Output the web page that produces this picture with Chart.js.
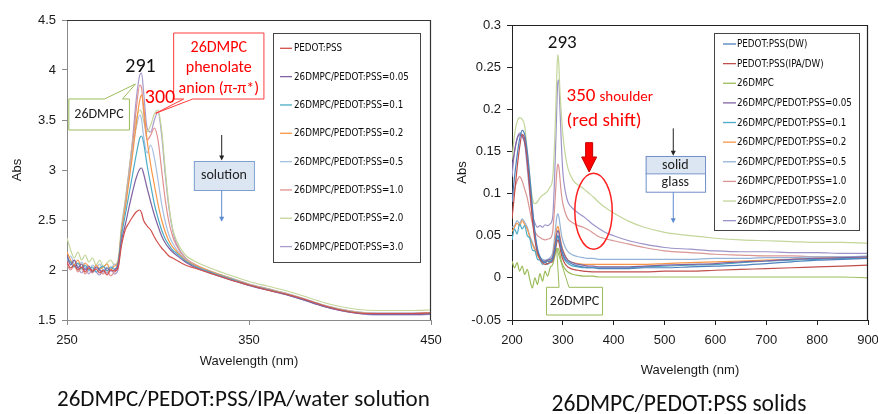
<!DOCTYPE html>
<html><head><meta charset="utf-8">
<script src="https://cdn.jsdelivr.net/npm/chart.js@4.4.1/dist/chart.umd.min.js"></script>
<style>
html,body{margin:0;padding:0;background:#fff;width:878px;height:414px;overflow:hidden;position:relative;}
#c1{position:absolute;left:0;top:0;width:460px;height:414px;}
#c2{position:absolute;left:440px;top:0;width:438px;height:414px;}
.cap{position:absolute;white-space:nowrap;color:#111;font-family:Carlito,'Open Sans',sans-serif;line-height:1;}
</style></head><body>
<canvas id="c1" width="460" height="414"></canvas>
<canvas id="c2" width="438" height="414"></canvas>
<div class="cap" id="cap1">26DMPC/PEDOT:PSS/IPA/water solution</div>
<div class="cap" id="cap2">26DMPC/PEDOT:PSS solids</div>
<script>
// ---------------- DATA: left panel (solution) ----------------
const leftWavelengths = [250,252,254,256,258,260,262,264,266,268,270,272,274,276,278,280,282,284,286,288,290,291,292,294,296,298,300,302,304,306,308,310,315,320,330,340,350,360,370,380,390,400,410,420,430,440,450];
const leftLabels = ['PEDOT:PSS','26DMPC/PEDOT:PSS=0.05','26DMPC/PEDOT:PSS=0.1','26DMPC/PEDOT:PSS=0.2','26DMPC/PEDOT:PSS=0.5','26DMPC/PEDOT:PSS=1.0','26DMPC/PEDOT:PSS=2.0','26DMPC/PEDOT:PSS=3.0'];
const leftPedot = [2.08,2.02,2.05,2.00,2.03,1.98,2.02,1.99,2.01,1.97,2.00,1.95,2.00,1.99,2.02,2.25,2.40,2.47,2.53,2.58,2.60,2.57,2.50,2.44,2.40,2.33,2.27,2.22,2.18,2.14,2.12,2.10,2.05,2.02,1.96,1.90,1.85,1.80,1.76,1.71,1.65,1.60,1.57,1.565,1.565,1.565,1.57];
const left005 = [2.15,2.05,2.10,2.02,2.06,2.00,2.04,1.98,2.03,2.00,1.98,2.02,1.99,2.00,2.05,2.30,2.45,2.62,2.78,2.92,3.01,3.02,2.97,2.82,2.68,2.55,2.44,2.34,2.27,2.22,2.18,2.15,2.08,2.03,1.96,1.90,1.845,1.80,1.755,1.70,1.64,1.595,1.565,1.555,1.555,1.555,1.56];
const left01 = [2.12,2.08,2.03,2.07,2.01,2.05,2.00,2.03,1.98,2.02,2.04,1.99,2.03,2.01,2.06,2.35,2.55,2.75,2.95,3.15,3.32,3.34,3.28,3.05,2.85,2.66,2.52,2.40,2.31,2.25,2.20,2.17,2.09,2.04,1.97,1.91,1.85,1.805,1.76,1.705,1.645,1.60,1.57,1.56,1.56,1.56,1.565];
const left02 = [2.18,2.10,2.05,2.10,2.02,2.07,2.03,1.99,2.05,2.01,2.03,2.06,2.00,2.04,2.07,2.40,2.62,2.88,3.15,3.45,3.70,3.75,3.65,3.30,3.05,2.85,2.66,2.50,2.38,2.29,2.23,2.19,2.10,2.05,1.98,1.915,1.855,1.81,1.765,1.71,1.65,1.605,1.575,1.565,1.565,1.565,1.57];
const left05 = [2.10,2.14,2.06,2.02,2.08,2.03,1.99,2.05,2.02,2.06,2.00,2.03,2.01,2.06,2.04,2.42,2.65,2.92,3.20,3.42,3.55,3.50,3.35,3.17,3.25,3.12,2.90,2.66,2.48,2.35,2.27,2.21,2.11,2.05,1.98,1.92,1.86,1.815,1.77,1.715,1.655,1.61,1.58,1.57,1.57,1.57,1.575];
const left10 = [2.05,2.00,2.04,1.98,2.02,1.96,2.00,1.97,2.03,1.99,1.96,2.00,1.94,1.98,2.03,2.40,2.66,2.95,3.25,3.60,3.85,3.82,3.60,3.30,3.35,3.42,3.30,3.00,2.70,2.48,2.34,2.25,2.12,2.06,1.98,1.92,1.86,1.815,1.77,1.715,1.655,1.61,1.58,1.57,1.57,1.57,1.575];
const left20 = [2.32,2.20,2.12,2.18,2.10,2.15,2.08,2.12,2.05,2.10,2.03,2.07,2.10,2.05,2.10,2.45,2.70,2.98,3.28,3.50,3.60,3.58,3.50,3.38,3.45,3.56,3.60,3.40,3.00,2.65,2.42,2.30,2.15,2.09,2.01,1.945,1.885,1.84,1.795,1.74,1.68,1.635,1.605,1.595,1.595,1.595,1.60];
const left30 = [2.12,2.06,2.10,2.03,1.97,2.02,1.96,2.01,1.98,1.95,2.00,1.97,2.02,1.96,2.00,2.40,2.68,2.98,3.30,3.70,3.95,3.97,3.80,3.42,3.38,3.50,3.58,3.35,2.95,2.62,2.40,2.27,2.12,2.05,1.97,1.91,1.845,1.80,1.755,1.70,1.64,1.595,1.565,1.55,1.55,1.55,1.555];
const leftSeries = [leftPedot,left005,left01,left02,left05,left10,left20,left30];
const leftColors = ['#D0504D','#8064A2','#4BACC6','#F79646','#A5BFE0','#E0908E','#C3D69B','#A99BCB'];
const leftXTicks = [250, 450, 100];      // min, max, step
const leftYTicks = [1.5, 4.5, 0.5];

// ---------------- DATA: right panel (solids) ----------------
const rightWavelengths = [200,205,210,215,220,225,230,235,240,245,250,255,260,265,270,275,280,285,288,290,292,294,297,300,305,310,320,330,340,350,360,370,380,400,430,460,500,550,600,650,700,750,800,850,900];
const rightLabels = ['PEDOT:PSS(DW)','PEDOT:PSS(IPA/DW)','26DMPC','26DMPC/PEDOT:PSS=0.05','26DMPC/PEDOT:PSS=0.1','26DMPC/PEDOT:PSS=0.2','26DMPC/PEDOT:PSS=0.5','26DMPC/PEDOT:PSS=1.0','26DMPC/PEDOT:PSS=2.0','26DMPC/PEDOT:PSS=3.0'];
const rightDW = [0.09,0.12,0.145,0.165,0.175,0.17,0.15,0.12,0.085,0.055,0.035,0.025,0.02,0.018,0.02,0.019,0.022,0.035,0.047,0.05,0.048,0.042,0.034,0.028,0.022,0.019,0.016,0.014,0.013,0.012,0.012,0.011,0.011,0.011,0.011,0.012,0.012,0.013,0.014,0.015,0.017,0.019,0.021,0.022,0.023];
const rightIPA = [0.07,0.10,0.13,0.155,0.17,0.165,0.14,0.105,0.07,0.045,0.03,0.022,0.018,0.016,0.017,0.018,0.02,0.032,0.042,0.045,0.043,0.037,0.028,0.022,0.016,0.013,0.01,0.009,0.008,0.0075,0.007,0.007,0.007,0.007,0.007,0.007,0.008,0.008,0.009,0.01,0.011,0.012,0.013,0.014,0.015];
const rightDMPC = [0.02,0.012,0.018,0.008,0.014,0.004,0.01,-0.002,-0.012,0.0,-0.008,0.005,-0.004,0.008,0.002,0.012,0.016,0.028,0.034,0.035,0.033,0.028,0.02,0.015,0.01,0.007,0.004,0.003,0.002,0.002,0.002,0.001,0.001,0.001,0.001,0.001,0.001,0.001,0.001,0.001,0.001,0.001,0.001,0.001,0.0];
const right005 = [0.13,0.15,0.165,0.17,0.168,0.16,0.14,0.11,0.08,0.05,0.032,0.024,0.02,0.02,0.021,0.022,0.025,0.04,0.052,0.056,0.054,0.047,0.038,0.032,0.025,0.021,0.018,0.016,0.015,0.014,0.014,0.013,0.013,0.013,0.013,0.014,0.015,0.016,0.017,0.019,0.02,0.022,0.023,0.024,0.025];
const right01 = [0.045,0.058,0.052,0.064,0.058,0.062,0.05,0.047,0.033,0.032,0.022,0.021,0.016,0.019,0.016,0.02,0.022,0.036,0.046,0.048,0.046,0.04,0.032,0.026,0.02,0.017,0.014,0.013,0.012,0.012,0.012,0.012,0.012,0.012,0.012,0.013,0.014,0.015,0.016,0.018,0.02,0.021,0.022,0.023,0.023];
const right02 = [0.055,0.06,0.065,0.062,0.068,0.063,0.058,0.048,0.04,0.033,0.027,0.022,0.02,0.019,0.02,0.021,0.025,0.045,0.058,0.061,0.058,0.05,0.04,0.033,0.026,0.021,0.018,0.017,0.016,0.016,0.016,0.016,0.016,0.016,0.016,0.016,0.017,0.018,0.019,0.02,0.021,0.022,0.023,0.024,0.024];
const right05 = [0.06,0.062,0.068,0.065,0.07,0.066,0.06,0.05,0.042,0.035,0.03,0.025,0.022,0.021,0.022,0.024,0.03,0.055,0.072,0.076,0.073,0.065,0.052,0.044,0.036,0.031,0.027,0.025,0.024,0.023,0.023,0.022,0.022,0.022,0.022,0.022,0.022,0.022,0.023,0.023,0.024,0.024,0.025,0.025,0.026];
const right10 = [0.09,0.105,0.115,0.12,0.115,0.105,0.095,0.08,0.065,0.055,0.05,0.048,0.046,0.045,0.046,0.047,0.055,0.095,0.125,0.135,0.132,0.12,0.1,0.088,0.077,0.07,0.065,0.062,0.06,0.057,0.053,0.049,0.047,0.044,0.04,0.036,0.032,0.03,0.028,0.027,0.026,0.026,0.025,0.025,0.025];
const right20 = [0.14,0.17,0.185,0.19,0.188,0.18,0.15,0.12,0.095,0.088,0.09,0.095,0.098,0.1,0.103,0.108,0.118,0.18,0.24,0.265,0.255,0.225,0.195,0.17,0.145,0.13,0.116,0.11,0.106,0.101,0.096,0.09,0.085,0.077,0.067,0.06,0.054,0.05,0.047,0.045,0.044,0.043,0.042,0.042,0.041];
const right30 = [0.12,0.15,0.165,0.172,0.17,0.16,0.13,0.10,0.075,0.065,0.06,0.062,0.06,0.063,0.062,0.064,0.072,0.14,0.2,0.232,0.235,0.205,0.16,0.125,0.102,0.09,0.082,0.077,0.073,0.068,0.063,0.059,0.055,0.05,0.044,0.04,0.036,0.034,0.032,0.031,0.031,0.03,0.03,0.029,0.029];
const rightSeries = [rightDW,rightIPA,rightDMPC,right005,right01,right02,right05,right10,right20,right30];
const rightColors = ['#4F81BD','#C0504D','#9BBB59','#8064A2','#4BACC6','#F79646','#95B3D7','#D99694','#C3D69B','#9E93C9'];
const rightXTicks = [200, 900, 100];
const rightYTicks = [-0.05, 0.3, 0.05];

// ---------------- helpers ----------------
const TF = "'Liberation Sans', Arial, sans-serif";
const LF = "'Liberation Sans Narrow', 'DejaVu Sans Condensed', 'Liberation Sans', sans-serif";
const AF = "Carlito, 'Open Sans', sans-serif";
const mctx = document.createElement('canvas').getContext('2d');
function fitSize(text, family, target){ mctx.font = '100px ' + family; return 100*target/mctx.measureText(text).width; }
const legendSize = fitSize('26DMPC/PEDOT:PSS=0.05', LF, 115);

function pts(xs, ys){ return xs.map((x,i)=>({x:x, y:ys[i]})); }
function fmt(v){ return String(+Number(v).toFixed(2)); }

function makeDatasets(xs, series, labels, colors){
  return series.map((s,i)=>({label:labels[i], data:pts(xs,s), borderColor:colors[i], backgroundColor:colors[i],
    borderWidth:1.2, pointRadius:0, fill:false, cubicInterpolationMode:'monotone'}));
}

function makeOptions(xt, yt, axisColor, yWidth, xHeight, pad){
  return {
    responsive:false, animation:false,
    layout:{padding:pad},
    plugins:{legend:{display:false}, tooltip:{enabled:false}},
    scales:{
      x:{type:'linear', min:xt[0], max:xt[1],
        ticks:{stepSize:xt[2], font:{family:TF,size:13}, color:'#1a1a1a', padding:8, maxRotation:0, autoSkip:false},
        grid:{display:true, drawOnChartArea:false, drawTicks:true, tickLength:5, color:axisColor},
        border:{color:axisColor, width:1},
        title:{display:true, text:'Wavelength (nm)', font:{family:TF,size:13}, color:'#1a1a1a', padding:0},
        afterFit:s=>{ s.height = xHeight; s.paddingLeft = 0; s.paddingRight = 0; }
      },
      y:{type:'linear', min:yt[0], max:yt[1],
        ticks:{stepSize:yt[2], font:{family:TF,size:13}, color:'#1a1a1a', padding:6, callback:v=>fmt(v), autoSkip:false},
        grid:{display:true, drawOnChartArea:false, drawTicks:true, tickLength:5, color:axisColor},
        border:{color:axisColor, width:1},
        title:{display:true, text:'Abs', font:{family:TF,size:13}, color:'#1a1a1a', padding:0},
        afterFit:s=>{ s.width = yWidth; }
      }
    }
  };
}

function drawFrame(chart, color){
  const {ctx, chartArea:a} = chart;
  ctx.save(); ctx.strokeStyle = color; ctx.lineWidth = 1.2;
  ctx.beginPath(); ctx.moveTo(a.left, a.top+0.5); ctx.lineTo(a.right-0.5, a.top+0.5); ctx.lineTo(a.right-0.5, a.bottom); ctx.stroke();
  ctx.restore();
}
function drawLegend(chart, o){
  const ctx = chart.ctx;
  ctx.save();
  ctx.fillStyle = '#fff'; ctx.strokeStyle = '#444'; ctx.lineWidth = 1;
  ctx.fillRect(o.x0, o.y0, o.x1-o.x0, o.y1-o.y0);
  ctx.strokeRect(o.x0+0.5, o.y0+0.5, o.x1-o.x0, o.y1-o.y0);
  ctx.font = legendSize.toFixed(2) + 'px ' + LF;
  ctx.textBaseline = 'middle'; ctx.textAlign = 'left';
  chart.data.datasets.forEach((d,i)=>{
    const y = o.firstY + i*o.step;
    ctx.strokeStyle = d.borderColor; ctx.lineWidth = 1.3;
    ctx.beginPath(); ctx.moveTo(o.lx0, y); ctx.lineTo(o.lx1, y); ctx.stroke();
    ctx.fillStyle = '#0d0d0d'; ctx.fillText(d.label, o.tx, y+0.5);
  });
  ctx.restore();
}
function text(ctx, s, x, y, size, color, align){
  ctx.save(); ctx.font = size + 'px ' + AF; ctx.fillStyle = color; ctx.textAlign = align||'center'; ctx.textBaseline = 'middle';
  ctx.fillText(s, x, y); ctx.restore();
}
function vArrow(ctx, x, y0, y1, color){
  ctx.save(); ctx.strokeStyle = color; ctx.fillStyle = color; ctx.lineWidth = 1;
  ctx.beginPath(); ctx.moveTo(x, y0); ctx.lineTo(x, y1-4); ctx.stroke();
  ctx.beginPath(); ctx.moveTo(x-2.5, y1-5); ctx.lineTo(x+2.5, y1-5); ctx.lineTo(x, y1); ctx.closePath(); ctx.fill();
  ctx.restore();
}
function calloutTop(ctx, x0,y0,x1,y1,b1,b2,tx,ty,color){
  ctx.save(); ctx.beginPath(); ctx.moveTo(x0,y0); ctx.lineTo(b1,y0); ctx.lineTo(tx,ty); ctx.lineTo(b2,y0); ctx.lineTo(x1,y0);
  ctx.lineTo(x1,y1); ctx.lineTo(x0,y1); ctx.closePath(); ctx.fillStyle='#fff'; ctx.fill(); ctx.strokeStyle=color; ctx.lineWidth=1; ctx.stroke(); ctx.restore();
}
function calloutBottom(ctx, x0,y0,x1,y1,b1,b2,tx,ty,color){
  ctx.save(); ctx.beginPath(); ctx.moveTo(x0,y0); ctx.lineTo(x1,y0); ctx.lineTo(x1,y1); ctx.lineTo(b2,y1); ctx.lineTo(tx,ty);
  ctx.lineTo(b1,y1); ctx.lineTo(x0,y1); ctx.closePath(); ctx.fillStyle='#fff'; ctx.fill(); ctx.strokeStyle=color; ctx.lineWidth=1; ctx.stroke(); ctx.restore();
}

// ---------------- left chart ----------------
const leftPlugin = {id:'leftAnn', afterDraw(chart){
  const ctx = chart.ctx, X = v=>chart.scales.x.getPixelForValue(v), Y = v=>chart.scales.y.getPixelForValue(v);
  drawFrame(chart, '#333');
  drawLegend(chart, {x0:273, y0:33, x1:420, y1:262, firstY:48.3, step:28.33, lx0:280, lx1:292, tx:294});
  calloutTop(ctx, X(251), Y(3.71), X(284.3), Y(3.40), X(270.6), X(280.5), X(287.6), Y(3.86), '#9BBB59');
  text(ctx, '26DMPC', X(267.6), Y(3.555), 14, '#222');
  text(ctx, '291', X(290.4), Y(4.03), 20, '#111');
  calloutBottom(ctx, X(308.6), Y(4.37), X(358.2), Y(3.71), X(314.1), X(319.1), X(298.7), Y(3.567), '#FF3B3B');
  text(ctx, '26DMPC', X(333.4), Y(4.22), 16, '#FF0000');
  text(ctx, 'phenolate', X(333.4), Y(4.02), 16, '#FF0000');
  text(ctx, 'anion (π-π*)', X(333.4), Y(3.81), 16, '#FF0000');
  text(ctx, '300', X(301.1), Y(3.725), 20, '#FF0000');
  vArrow(ctx, X(335), Y(3.35), Y(3.095), '#222');
  ctx.save(); ctx.fillStyle = '#DCE6F2'; ctx.strokeStyle = '#7F9FCF'; ctx.lineWidth = 1;
  const bx0 = X(319.7), by0 = Y(3.09), bx1 = X(352.7), by1 = Y(2.80);
  ctx.fillRect(bx0, by0, bx1-bx0, by1-by0); ctx.strokeRect(bx0+0.5, by0+0.5, bx1-bx0, by1-by0); ctx.restore();
  text(ctx, 'solution', X(336.2), Y(2.945), 14, '#222');
  vArrow(ctx, X(335), Y(2.795), Y(2.483), '#5B8BD0');
}};

new Chart(document.getElementById('c1'), {
  type:'line',
  data:{datasets:makeDatasets(leftWavelengths, leftSeries, leftLabels, leftColors)},
  options:makeOptions(leftXTicks, leftYTicks, '#8A8A8A', 57, 49, {left:10, right:29, top:20, bottom:45}),
  plugins:[leftPlugin]
});

// ---------------- right chart ----------------
const rightPlugin = {id:'rightAnn', afterDraw(chart){
  const ctx = chart.ctx, X = v=>chart.scales.x.getPixelForValue(v), Y = v=>chart.scales.y.getPixelForValue(v);
  drawFrame(chart, '#222');
  drawLegend(chart, {x0:274, y0:33, x1:419, y1:230, firstY:44, step:19.63, lx0:283, lx1:296, tx:297});
  text(ctx, '293', X(298.9), Y(0.2783), 19, '#111');
  ctx.save(); ctx.font = '19px ' + AF; const w350 = ctx.measureText('350').width; ctx.restore();
  text(ctx, '350', X(307.2), Y(0.2149), 19, '#FF0000', 'left');
  text(ctx, 'shoulder', X(307.2)+w350+4, Y(0.2149)+1, 15, '#FF0000', 'left');
  text(ctx, '(red shift)', X(307.2), Y(0.1861), 19, '#FF0000', 'left');
  ctx.save(); ctx.fillStyle = '#FF0000'; ctx.strokeStyle = '#C00000'; ctx.lineWidth = 1;
  const ax = X(351.7);
  ctx.beginPath(); ctx.moveTo(ax-3.5, Y(0.1604)); ctx.lineTo(ax+3.5, Y(0.1604)); ctx.lineTo(ax+3.5, Y(0.1434));
  ctx.lineTo(ax+7.5, Y(0.1434)); ctx.lineTo(ax, Y(0.1256)); ctx.lineTo(ax-7.5, Y(0.1434)); ctx.lineTo(ax-3.5, Y(0.1434)); ctx.closePath();
  ctx.fill(); ctx.stroke();
  const cx = X(360.3), cy = Y(0.079), rx = X(360.3+36.8)-cx, ry = cy - Y(0.079+0.0451);
  ctx.strokeStyle = '#FF2020'; ctx.lineWidth = 1.5; ctx.beginPath(); ctx.ellipse(cx, cy, rx, ry, 0, 0, Math.PI*2); ctx.stroke();
  ctx.restore();
  vArrow(ctx, X(517.1), Y(0.1774), Y(0.1450), '#222');
  ctx.save(); ctx.strokeStyle = '#6F8FC8'; ctx.lineWidth = 1;
  const gx0 = X(462.8), gx1 = X(579.6), gy0 = Y(0.1446), gy1 = Y(0.124), gy2 = Y(0.1022);
  ctx.fillStyle = '#DCE6F2'; ctx.fillRect(gx0, gy0, gx1-gx0, gy1-gy0);
  ctx.fillStyle = '#fff'; ctx.fillRect(gx0, gy1, gx1-gx0, gy2-gy1);
  ctx.strokeRect(gx0+0.5, gy0+0.5, gx1-gx0, gy2-gy0);
  ctx.beginPath(); ctx.moveTo(gx0, gy1+0.5); ctx.lineTo(gx1, gy1+0.5); ctx.stroke(); ctx.restore();
  text(ctx, 'solid', (gx0+gx1)/2, (gy0+gy1)/2+0.5, 14, '#222');
  text(ctx, 'glass', (gx0+gx1)/2, (gy1+gy2)/2, 14, '#222');
  vArrow(ctx, X(517.1), Y(0.1015), Y(0.0647), '#5B8BD0');
  calloutTop(ctx, X(267.8), Y(-0.0112), X(378.1), Y(-0.0441), X(292.6), X(312), X(287.8), Y(0.0351), '#9BBB59');
  text(ctx, '26DMPC', X(323), Y(-0.0276), 14, '#222');
}};

new Chart(document.getElementById('c2'), {
  type:'line',
  data:{datasets:makeDatasets(rightWavelengths, rightSeries, rightLabels, rightColors)},
  options:makeOptions(rightXTicks, rightYTicks, '#222', 57, 58, {left:15, right:10, top:25, bottom:36}),
  plugins:[rightPlugin]
});

// ---------------- captions ----------------
function placeCap(id, target, cx, cy){
  const el = document.getElementById(id);
  const size = fitSize(el.textContent, AF, target);
  el.style.fontSize = size.toFixed(2) + 'px';
  el.style.left = (cx - target/2) + 'px';
  el.style.top = (cy - size*0.56) + 'px';
}
placeCap('cap1', 373, 243.5, 400);
placeCap('cap2', 255, 679, 405);
</script>
</body></html>
